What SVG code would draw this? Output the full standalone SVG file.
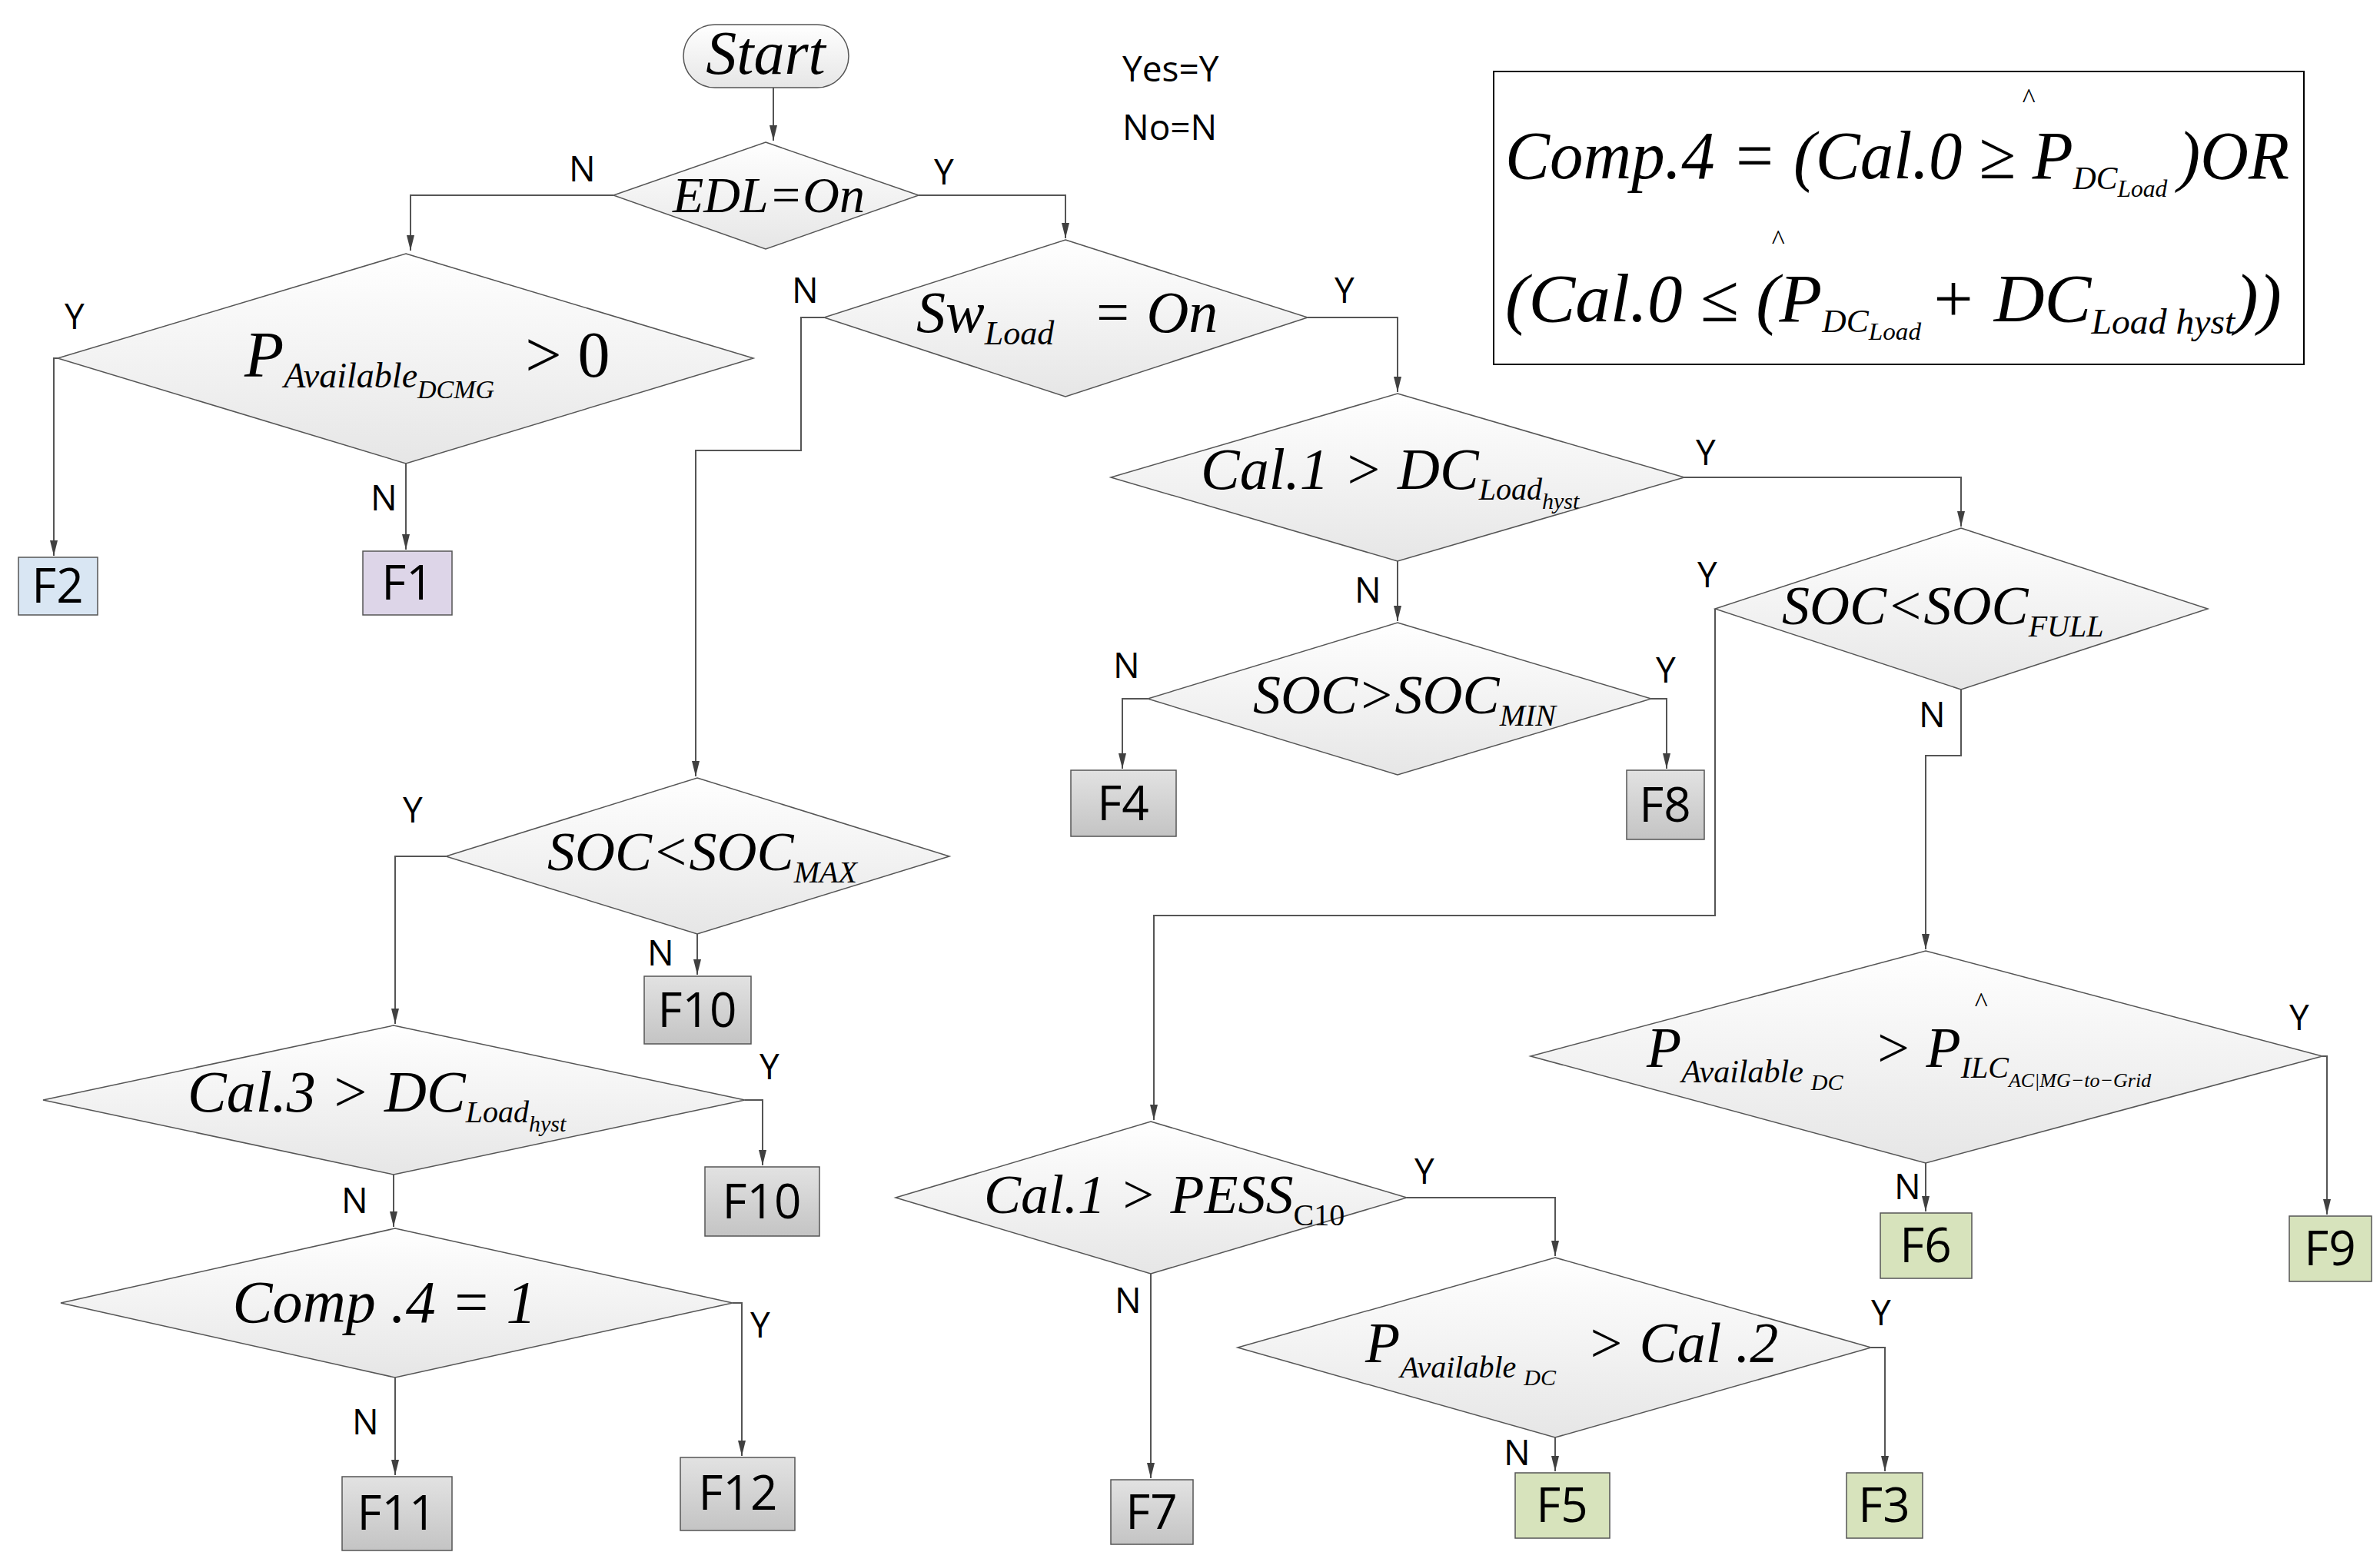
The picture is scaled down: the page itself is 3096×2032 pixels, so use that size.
<svg xmlns="http://www.w3.org/2000/svg" width="3096" height="2032" viewBox="0 0 3096 2032">
<defs>
<linearGradient id="dg" x1="0" y1="0" x2="0" y2="1"><stop offset="0" stop-color="#ffffff"/><stop offset="1" stop-color="#e6e6e6"/></linearGradient>
<linearGradient id="gg" x1="0" y1="0" x2="0" y2="1"><stop offset="0" stop-color="#e2e2e2"/><stop offset="1" stop-color="#c4c4c4"/></linearGradient>
<style>
.d{fill:url(#dg);stroke:#555;stroke-width:1.5}
.b{stroke:#555;stroke-width:1.5}
.g{fill:url(#gg)}
.c{fill:none;stroke:#555;stroke-width:2}
.m{font-family:"Liberation Serif","DejaVu Serif",serif;font-style:italic;fill:#000}
.l{font-family:"Open Sans","Liberation Sans",sans-serif;font-size:46px;fill:#000}
.f{font-family:"Open Sans","Liberation Sans",sans-serif;font-size:62px;fill:#000;text-anchor:middle}
</style>
</defs>
<rect width="3096" height="2032" fill="#fff"/>
<g id="connectors">
<path class="c" d="M1006,113 V183"/>
<path class="c" d="M798,254 H534 V326"/>
<path class="c" d="M75,466 H70 V723"/>
<path class="c" d="M528,603 V715"/>
<path class="c" d="M1195,254 H1386 V310"/>
<path class="c" d="M1072,413 H1042 V586 H905 V1010"/>
<path class="c" d="M1701,413 H1818 V510"/>
<path class="c" d="M1818,730 V808"/>
<path class="c" d="M1493,909 H1460 V1000"/>
<path class="c" d="M2148,909 H2168 V1000"/>
<path class="c" d="M2191,621 H2551 V685"/>
<path class="c" d="M2231,792 V1191 H1501 V1457"/>
<path class="c" d="M2551,897 V983 H2505 V1235"/>
<path class="c" d="M2505,1513 V1576"/>
<path class="c" d="M3021,1374 H3027 V1580"/>
<path class="c" d="M1830,1558 H2023 V1634"/>
<path class="c" d="M1497,1657 V1923"/>
<path class="c" d="M2023,1870 V1914"/>
<path class="c" d="M2434,1753 H2452 V1914"/>
<path class="c" d="M907,1215 V1268"/>
<path class="c" d="M580,1114 H514 V1332"/>
<path class="c" d="M969,1431 H992 V1516"/>
<path class="c" d="M512,1528 V1596"/>
<path class="c" d="M953,1695 H965 V1894"/>
<path class="c" d="M514,1792 V1919"/>
<g fill="#404040">
<path d="M1001,163 h10 l-5,20z"/><path d="M529,306 h10 l-5,20z"/><path d="M65,703 h10 l-5,20z"/><path d="M523,695 h10 l-5,20z"/>
<path d="M1381,290 h10 l-5,20z"/><path d="M900,990 h10 l-5,20z"/><path d="M1813,490 h10 l-5,20z"/><path d="M1813,788 h10 l-5,20z"/>
<path d="M1455,980 h10 l-5,20z"/><path d="M2163,980 h10 l-5,20z"/><path d="M2546,665 h10 l-5,20z"/><path d="M1496,1437 h10 l-5,20z"/>
<path d="M2500,1215 h10 l-5,20z"/><path d="M2500,1556 h10 l-5,20z"/><path d="M3022,1560 h10 l-5,20z"/><path d="M2018,1614 h10 l-5,20z"/>
<path d="M1492,1903 h10 l-5,20z"/><path d="M2018,1894 h10 l-5,20z"/><path d="M2447,1894 h10 l-5,20z"/><path d="M902,1248 h10 l-5,20z"/>
<path d="M509,1312 h10 l-5,20z"/><path d="M987,1496 h10 l-5,20z"/><path d="M507,1576 h10 l-5,20z"/><path d="M960,1874 h10 l-5,20z"/><path d="M509,1899 h10 l-5,20z"/>
</g>
</g>
<g id="labels" class="l">
<text x="740" y="236">N</text><text x="1215" y="240">Y</text>
<text x="84" y="428">Y</text><text x="482" y="664">N</text>
<text x="1030" y="394">N</text><text x="1736" y="394">Y</text>
<text x="2206" y="605">Y</text><text x="1762" y="784">N</text>
<text x="1448" y="882">N</text><text x="2154" y="888">Y</text>
<text x="2208" y="764">Y</text><text x="2496" y="946">N</text>
<text x="2464" y="1560">N</text><text x="2978" y="1340">Y</text>
<text x="1840" y="1540">Y</text><text x="1450" y="1708">N</text>
<text x="1956" y="1906">N</text><text x="2434" y="1724">Y</text>
<text x="842" y="1256">N</text><text x="524" y="1070">Y</text>
<text x="988" y="1404">Y</text><text x="444" y="1578">N</text>
<text x="976" y="1740">Y</text><text x="458" y="1866">N</text>
<text x="1460" y="106">Yes=Y</text><text x="1460" y="182">No=N</text>
</g>
<g id="start"><rect x="889" y="32" width="215" height="82" rx="41" fill="url(#dg)" stroke="#555" stroke-width="1.5"/><text class="m" x="996" y="96" font-size="80" text-anchor="middle">Start</text></g>
<g id="edl"><polygon class="d" points="996,185 1195,254 996,324 798,254"/><text class="m" x="1000" y="276" font-size="66" text-anchor="middle">EDL=On</text></g>
<g id="pdcmg"><polygon class="d" points="528,330 980,466 528,603 75,466"/><text class="m" x="318" y="490" font-size="84">P<tspan font-size="46" dy="14">Available</tspan><tspan font-size="34" dy="14">DCMG</tspan><tspan font-size="84" font-style="normal" dy="-28" dx="40">&gt; 0</tspan></text></g>
<g id="f2"><rect class="b" x="24" y="725" width="103" height="75" fill="#d9e6f3"/><text class="f" x="75" y="784">F2</text></g>
<g id="f1"><rect class="b" x="472" y="717" width="116" height="83" fill="#ddd5e8"/><text class="f" x="530" y="780">F1</text></g>
<g id="swload"><polygon class="d" points="1386,312 1701,413 1386,516 1072,413"/><text class="m" x="1192" y="432" font-size="76">Sw<tspan font-size="44" dy="16">Load</tspan><tspan font-size="76" dy="-16" dx="50">=  On</tspan></text></g>
<g id="cal1"><polygon class="d" points="1818,512 2191,621 1818,730 1445,621"/><text class="m" x="1562" y="636" font-size="76">Cal.1 &gt; DC<tspan font-size="40" dy="14">Load</tspan><tspan font-size="30" dy="12">hyst</tspan></text></g>
<g id="socmin"><polygon class="d" points="1818,810 2148,909 1818,1008 1493,909"/><text class="m" x="1630" y="928" font-size="72">SOC&gt;SOC<tspan font-size="40" dy="16">MIN</tspan></text></g>
<g id="f4"><rect class="b g" x="1393" y="1002" width="137" height="86"/><text class="f" x="1461" y="1067">F4</text></g>
<g id="f8"><rect class="b g" x="2116" y="1002" width="101" height="90"/><text class="f" x="2166" y="1069">F8</text></g>
<g id="socfull"><polygon class="d" points="2551,687 2872,792 2551,897 2231,792"/><text class="m" x="2318" y="812" font-size="72">SOC&lt;SOC<tspan font-size="40" dy="16">FULL</tspan></text></g>
<g id="pilc"><polygon class="d" points="2505,1237 3021,1374 2505,1513 1991,1374"/><text class="m" x="2142" y="1388" font-size="74">P<tspan font-size="42" dy="20">Available</tspan><tspan font-size="30" dx="10" dy="10">DC</tspan><tspan font-size="74" dy="-30" dx="40">&gt;</tspan><tspan font-size="74" dx="18">P</tspan><tspan font-size="40" dy="14">ILC</tspan><tspan font-size="26" dy="12">AC|MG−to−Grid</tspan></text><text class="m" x="2568" y="1316" font-size="36" font-style="normal">^</text></g>
<g id="f6"><rect class="b" x="2446" y="1578" width="119" height="85" fill="#d7e3bc"/><text class="f" x="2505" y="1642">F6</text></g>
<g id="f9"><rect class="b" x="2978" y="1582" width="107" height="85" fill="#d7e3bc"/><text class="f" x="3031" y="1646">F9</text></g>
<g id="pess"><polygon class="d" points="1497,1459 1830,1558 1497,1657 1165,1558"/><text class="m" x="1280" y="1578" font-size="72">Cal.1 &gt; PESS<tspan font-size="40" dy="16" font-style="normal">C10</tspan></text></g>
<g id="cal2"><polygon class="d" points="2023,1636 2434,1753 2023,1870 1610,1753"/><text class="m" x="1776" y="1772" font-size="74">P<tspan font-size="40" dy="20">Available</tspan><tspan font-size="30" dx="10" dy="10">DC</tspan><tspan font-size="74" dy="-30" dx="40">&gt; Cal .2</tspan></text></g>
<g id="f7"><rect class="b g" x="1445" y="1925" width="107" height="84"/><text class="f" x="1498" y="1989">F7</text></g>
<g id="f5"><rect class="b" x="1971" y="1916" width="123" height="85" fill="#d7e3bc"/><text class="f" x="2032" y="1980">F5</text></g>
<g id="f3"><rect class="b" x="2402" y="1916" width="99" height="85" fill="#d7e3bc"/><text class="f" x="2451" y="1980">F3</text></g>
<g id="socmax"><polygon class="d" points="907,1012 1235,1114 907,1215 580,1114"/><text class="m" x="712" y="1132" font-size="72">SOC&lt;SOC<tspan font-size="40" dy="16">MAX</tspan></text></g>
<g id="f10a"><rect class="b g" x="838" y="1270" width="139" height="88"/><text class="f" x="907" y="1336">F10</text></g>
<g id="cal3"><polygon class="d" points="512,1334 969,1431 512,1528 56,1431"/><text class="m" x="244" y="1446" font-size="76">Cal.3 &gt; DC<tspan font-size="40" dy="14">Load</tspan><tspan font-size="30" dy="12">hyst</tspan></text></g>
<g id="f10b"><rect class="b g" x="917" y="1518" width="149" height="90"/><text class="f" x="991" y="1585">F10</text></g>
<g id="comp4"><polygon class="d" points="514,1598 953,1695 514,1792 79,1695"/><text class="m" x="500" y="1720" font-size="78" text-anchor="middle">Comp .4 = 1</text></g>
<g id="f12"><rect class="b g" x="885" y="1896" width="149" height="95"/><text class="f" x="960" y="1964">F12</text></g>
<g id="f11"><rect class="b g" x="445" y="1921" width="143" height="96"/><text class="f" x="516" y="1990">F11</text></g>
<g id="formula"><rect x="1943" y="93" width="1054" height="381" fill="#fff" stroke="#000" stroke-width="2"/>
<text class="m" x="1958" y="232" font-size="88" textLength="1020" lengthAdjust="spacingAndGlyphs">Comp.4 = (Cal.0 ≥ P<tspan font-size="42" dy="14">DC</tspan><tspan font-size="32" dy="10">Load</tspan><tspan font-size="88" dy="-24" dx="14">)OR</tspan></text>
<text class="m" x="2630" y="140" font-size="36" font-style="normal">^</text>
<text class="m" x="1958" y="418" font-size="88" textLength="1010" lengthAdjust="spacingAndGlyphs">(Cal.0 ≤ (P<tspan font-size="42" dy="14">DC</tspan><tspan font-size="32" dy="10">Load</tspan><tspan font-size="88" dy="-24" dx="10">+ DC</tspan><tspan font-size="46" dy="16">Load hyst</tspan><tspan font-size="88" dy="-16">))</tspan></text>
<text class="m" x="2304" y="324" font-size="36" font-style="normal">^</text></g>
</svg>
